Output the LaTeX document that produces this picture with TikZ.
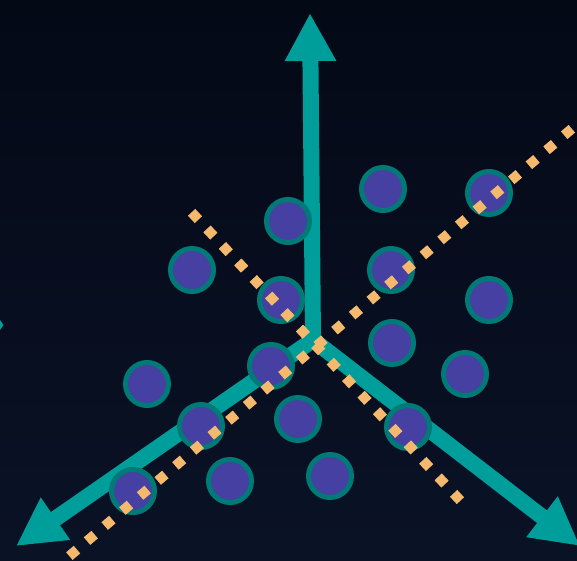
\documentclass[tikz,border=0pt]{standalone}
\usetikzlibrary{arrows.meta}
\definecolor{bgtop}{RGB}{4,9,22}
\definecolor{bgbot}{RGB}{10,18,38}
\definecolor{axiscol}{RGB}{0,158,154}
\definecolor{ringcol}{RGB}{0,122,118}
\definecolor{dotfill}{RGB}{69,64,162}
\definecolor{dashcol}{RGB}{245,185,110}
\tikzset{
  axisline/.style={draw=axiscol, line width=16pt, -{Triangle[length=48pt,width=48pt]}},
  pt/.style={circle, draw=ringcol, fill=dotfill, line width=5pt, minimum size=43pt, inner sep=0pt},
  dashline/.style={draw=dashcol, line width=10pt, shorten <=-5pt, shorten >=-5pt}
}
\begin{document}
\begin{tikzpicture}[x=1pt,y=-1pt]
\shade[top color=bgtop, bottom color=bgbot] (0,0) rectangle (577,560);
\useasboundingbox (0,0) rectangle (577,560);
% axes
\coordinate (O) at (313,340);
\coordinate (up) at (310,13);
\coordinate (ll) at (16,546);
\coordinate (lr) at (580,546);
\draw[axisline] (O) -- (up);
\draw[axisline] (O) -- (ll);
\draw[axisline] (O) -- (lr);
\fill[axiscol] (0,320) -- (3.5,325) -- (0,330) -- cycle;
% points
\foreach \n/\x/\y in {p1/383/189, p2/489/193, p3/288/221, p4/192/270, p5/391/270,
  p6/281/300, p7/489/300, p8/392/343, p9/271/366, p10/465/374, p11/147/384,
  p12/298/419, p13/201/426, p14/408/427, p15/230/481, p16/330/476, p17/133/491}
  \node[pt] (\n) at (\x,\y) {};
% dashed lines
\coordinate (a1) at (568,132);
\coordinate (a2) at (73,553);
\coordinate (b1) at (195,216);
\coordinate (b2) at (457,497);
\draw[dashline, dash pattern=on 10pt off 13.2pt] (a1) -- (a2);
\draw[dashline, dash pattern=on 10pt off 12.6pt] (b1) -- (b2);
\end{tikzpicture}
\end{document}
